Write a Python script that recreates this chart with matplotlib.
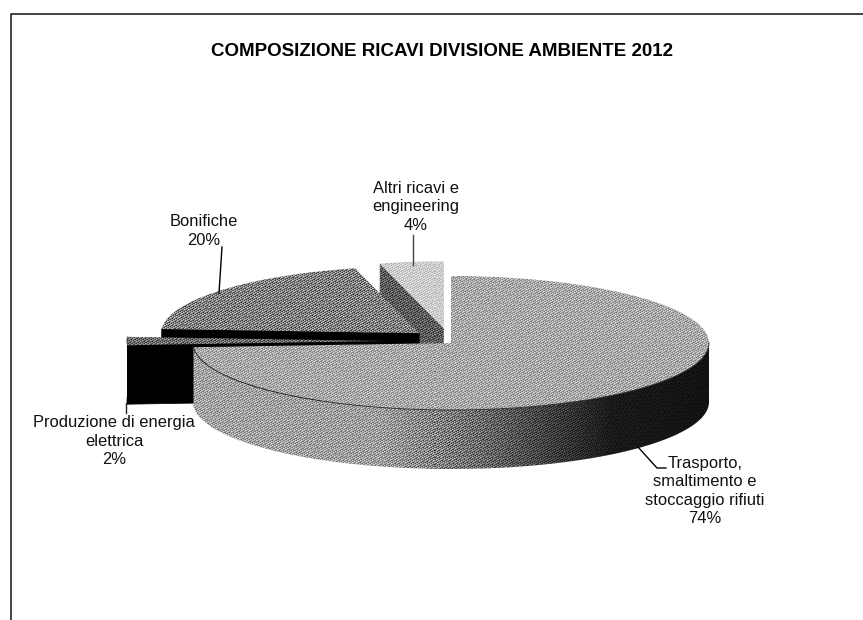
import numpy as np
import matplotlib
import matplotlib.pyplot as plt
from matplotlib.patches import Polygon

matplotlib.use('agg')

W, H = 863, 620

title = "COMPOSIZIONE RICAVI DIVISIONE AMBIENTE 2012"
# clockwise from 12 o'clock
categories = ["Trasporto,\nsmaltimento e\nstoccaggio rifiuti", "Produzione di energia\nelettrica",
              "Bonifiche", "Altri ricavi e\nengineering"]
shares = [74, 2, 20, 4]

explode = [0.0, 0.256, 0.16, 0.22]
lift = [0, 2, 3, 0]
label_xy = [(705, 491), (114, 441), (204, 231), (416, 207)]
leaders = [[(638, 447), (657, 468), (666, 468)], [(126, 403), (126, 413)],
           [(222, 247), (219, 293)], [(413, 235), (413, 265)]]
leader_col = ['black', '#222222', 'black', '#444444']

cx, cy, rx, ry, depth = 451, 343, 258, 67, 59

plt.rcParams['font.family'] = ['Liberation Sans', 'DejaVu Sans']

fig = plt.figure(figsize=[W/100, H/100], dpi=100)
ax = fig.add_axes([0, 0, 1, 1])

# scanned halftone look, stipple threshold
X, Y = np.meshgrid(np.arange(W), np.arange(H))
thresh = (X*0.7549 + Y*0.5698) % 1.0
Xc = np.arange(W) + 0.5


def shade(xy, tone, z):
    values = np.tile(tone(Xc) if callable(tone) else np.full(W, tone), (H, 1))
    amp = 1.3*np.minimum(values, 1 - values)
    img = np.clip(values + amp*(thresh - 0.5), 0, 1)
    im = ax.imshow(img, cmap='gray', vmin=0, vmax=1, extent=(0, W, H, 0),
                   interpolation='nearest', aspect='auto', zorder=z)
    im.set_clip_path(Polygon(xy, closed=True, transform=ax.transData))


def slice_geom(i):
    edges = np.radians(np.cumsum([0] + shares)*3.6)
    a0, a1 = edges[i], edges[i + 1]
    mid = 0.5*(a0 + a1)
    ox = cx + explode[i]*rx*np.sin(mid)
    oy = cy - explode[i]*ry*np.cos(mid) - lift[i]
    return a0, a1, ox, oy


def arc(ox, oy, a0, a1, n=120):
    t = np.linspace(a0, a1, n)
    return np.column_stack([ox + rx*np.sin(t), oy - ry*np.cos(t)])


def top_face(i):
    a0, a1, ox, oy = slice_geom(i)
    return np.vstack([[ox, oy], arc(ox, oy, a0, a1)])


def cut_face(i, a):
    _, _, ox, oy = slice_geom(i)
    rim = arc(ox, oy, a, a, 1)[0]
    return np.array([[ox, oy], rim, rim + [0, depth], [ox, oy + depth]])


def main_side(x):
    return np.interp(x, [195, 380, 470, 540, 610, 707], [0.64, 0.62, 0.44, 0.27, 0.1, 0.07])


# back to front: Altri, Bonifiche, Produzione, Trasporto
a0, a1, ox, oy = slice_geom(3)
shade(cut_face(3, a0), 0.36, 1)
shade(top_face(3), 0.8, 2)

a0, a1, ox, oy = slice_geom(2)
ax.add_patch(Polygon(cut_face(2, a0), closed=True, fc='black', ec='black', lw=0.5, zorder=3))
shade(top_face(2), 0.5, 4)

a0, a1, ox, oy = slice_geom(1)
ax.add_patch(Polygon(cut_face(1, a0), closed=True, fc='black', ec='black', lw=0.5, zorder=5))
rim_top = arc(ox, oy, a0, a1, 20)
ax.add_patch(Polygon(np.vstack([rim_top, (rim_top + [0, depth])[::-1]]), closed=True,
                     fc='black', ec='black', lw=0.5, zorder=5))
shade(top_face(1), 0.42, 6)

a0, a1, ox, oy = slice_geom(0)
front = arc(ox, oy, np.pi/2, a1, 200)
shade(np.vstack([front, (front + [0, depth])[::-1]]), main_side, 7)
shade(top_face(0), 0.66, 8)
ax.plot(front[:, 0], front[:, 1], c='#222222', lw=0.6, zorder=9)

for pts, col in zip(leaders, leader_col):
    pts = np.array(pts)
    ax.plot(pts[:, 0], pts[:, 1], c=col, lw=1.0, zorder=10)

for name, share, (lx, ly) in zip(categories, shares, label_xy):
    ax.text(lx, ly, f"{name}\n{share}%", ha='center', va='center', fontsize=11.9,
            color='#111111', linespacing=1.26, zorder=11)

ax.text(441.5, 52, title, ha='center', va='center', fontsize=13.5, fontweight='bold', color='black')

# frame of the scanned page
ax.plot([10.5, 10.5, W], [H, 13.5, 13.5], c='#111111', lw=1.1)

ax.set_xlim(0, W)
ax.set_ylim(H, 0)
ax.axis('off')
fig.savefig("out.png", dpi=100)
